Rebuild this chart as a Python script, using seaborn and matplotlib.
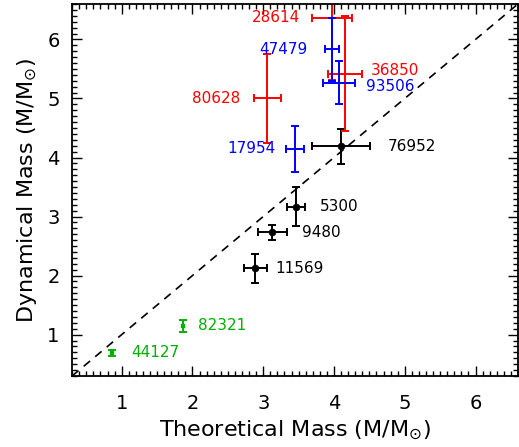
import matplotlib
matplotlib.use("Agg")
import matplotlib.pyplot as plt
from matplotlib.ticker import MultipleLocator
import seaborn as sns
import pandas as pd

# black: good agreement
blk_names = ['76952', '5300', '9480', '11569']
blk_x = [4.10, 3.46, 3.13, 2.89]
blk_xerr = [0.41, 0.13, 0.20, 0.16]
blk_y = [4.19, 3.17, 2.73, 2.12]
blk_yerr = [0.30, 0.33, 0.13, 0.25]

# red
red_names = ['28614', '36850', '80628']
red_x = [3.97, 4.15, 3.06]
red_xerr = [0.28, 0.24, 0.19]
red_y = [6.37, 5.42, 5.00]
red_yerr = [1.05, 0.97, 0.76]

# blue
blu_names = ['47479', '93506', '17954']
blu_x = [3.97, 4.07, 3.45]
blu_xerr = [0.10, 0.23, 0.13]
blu_y = [5.83, 5.27, 4.15]
blu_yerr = [0.53, 0.37, 0.39]

# green
grn_names = ['82321', '44127']
grn_x = [1.87, 0.86]
grn_xerr = [0.0, 0.0]
grn_y = [1.15, 0.69]
grn_yerr = [0.10, 0.05]

sns.set_theme(style='ticks')
plt.rcParams['font.family'] = ['DejaVu Sans']
plt.rcParams.update({'text.color': 'black', 'axes.labelcolor': 'black',
                     'xtick.color': 'black', 'ytick.color': 'black'})

fig = plt.figure(figsize=(5.19, 4.47), dpi=100)
ax = fig.add_axes([0.139, 0.159, 0.859, 0.832])

lim = (0.3, 6.6)
ax.plot(lim, lim, ls=(0, (5, 4)), color='black', lw=1.2, zorder=1)

groups = [
    (blk_names, blk_x, blk_xerr, blk_y, blk_yerr, 'black'),
    (red_names, red_x, red_xerr, red_y, red_yerr, 'red'),
    (blu_names, blu_x, blu_xerr, blu_y, blu_yerr, 'blue'),
    (grn_names, grn_x, grn_xerr, grn_y, grn_yerr, '#00b000'),
]
for names, x, xe, y, ye, c in groups:
    ax.errorbar(x, y, xerr=xe, yerr=ye, fmt='none', ecolor=c,
                elinewidth=1.4, capsize=3, capthick=1.4, zorder=2)

df = pd.DataFrame({'x': blk_x, 'y': blk_y})
sns.scatterplot(data=df, x='x', y='y', color='black', s=25, ax=ax,
                edgecolor='black', zorder=3)
grn_df = pd.DataFrame({'x': grn_x, 'y': grn_y})
sns.scatterplot(data=grn_df, x='x', y='y', color='#00b000', marker='s', s=8,
                ax=ax, edgecolor='#00b000', zorder=3)

fs = 11
# label offsets (data units)
blk_off = [(0.66, 0.0), (0.34, 0.0), (0.42, 0.0), (0.28, 0.0)]
for n, x, y, (dx, dy) in zip(blk_names, blk_x, blk_y, blk_off):
    ax.text(x + dx, y + dy, n, color='black', fontsize=fs, va='center', ha='left')

red_off = [(-0.45, 0.0, 'right'), (0.37, 0.05, 'left'), (-0.38, 0.0, 'right')]
for n, x, y, (dx, dy, ha) in zip(red_names, red_x, red_y, red_off):
    ax.text(x + dx, y + dy, n, color='red', fontsize=fs, va='center', ha=ha)

blu_off = [(-0.35, 0.0, 'right'), (0.38, -0.07, 'left'), (-0.28, 0.0, 'right')]
for n, x, y, (dx, dy, ha) in zip(blu_names, blu_x, blu_y, blu_off):
    ax.text(x + dx, y + dy, n, color='blue', fontsize=fs, va='center', ha=ha)

grn_off = [(0.21, 0.0), (0.28, 0.0)]
for n, x, y, (dx, dy) in zip(grn_names, grn_x, grn_y, grn_off):
    ax.text(x + dx, y + dy, n, color='#00b000', fontsize=fs, va='center', ha='left')

ax.set_xlim(lim)
ax.set_ylim(lim)
ax.xaxis.set_major_locator(MultipleLocator(1))
ax.yaxis.set_major_locator(MultipleLocator(1))
ax.xaxis.set_minor_locator(MultipleLocator(0.1))
ax.yaxis.set_minor_locator(MultipleLocator(0.1))
ax.tick_params(which='both', direction='in', top=True, right=True, color='black',
               labelcolor='black', width=1.0, labelsize=14)
ax.tick_params(axis='x', which='major', pad=13)
ax.tick_params(axis='y', which='major', pad=9)
ax.tick_params(which='major', length=7)
ax.tick_params(which='minor', length=3.5)
for s in ax.spines.values():
    s.set_linewidth(1.3)
    s.set_color('black')

ax.set_xlabel(r'Theoretical Mass (M/M$_{\odot}$)', fontsize=16, labelpad=4,
              color='black')
ax.set_ylabel(r'Dynamical Mass (M/M$_{\odot}$)', fontsize=16, labelpad=6,
              color='black')

fig.savefig('out.png', dpi=100)
